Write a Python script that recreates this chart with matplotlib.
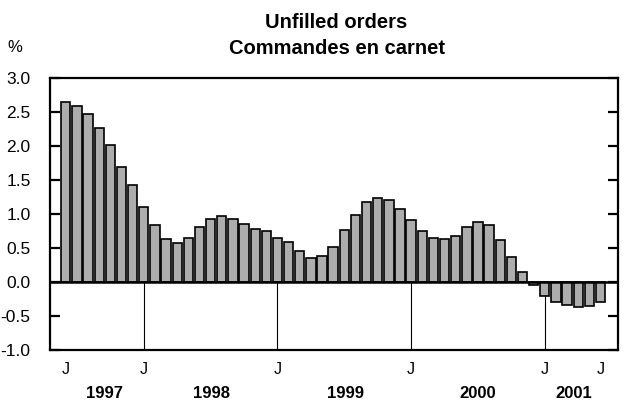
import matplotlib
matplotlib.use("Agg")
import matplotlib.pyplot as plt
import matplotlib.transforms as mtransforms
import numpy as np

plt.rcParams['font.family'] = ['Liberation Sans', 'DejaVu Sans']

# Monthly values, June 1997 .. June 2001
values = [2.64, 2.59, 2.47, 2.26, 2.01, 1.69, 1.43,            # Jun-Dec 1997
          1.11, 0.84, 0.63, 0.58, 0.65, 0.81, 0.93, 0.97, 0.93, 0.85, 0.78, 0.75,  # 1998
          0.64, 0.59, 0.46, 0.36, 0.38, 0.52, 0.76, 0.99, 1.17, 1.24, 1.20, 1.07,  # 1999
          0.91, 0.755, 0.65, 0.63, 0.68, 0.81, 0.88, 0.84, 0.62, 0.37, 0.15, -0.05,  # 2000
          -0.21, -0.29, -0.34, -0.37, -0.35, -0.29]               # Jan-Jun 2001
month_labels = ['J', 'J', 'J', 'J', 'J', 'J']
month_label_idx = [0, 7, 19, 31, 43, 48]
jan_idx = [7, 19, 31, 43]
years = ['1997', '1998', '1999', '2000', '2001']
year_pos = [3.5, 13.1, 25.1, 37.0, 45.6]
yticks = [3.0, 2.5, 2.0, 1.5, 1.0, 0.5, 0.0, -0.5, -1.0]

fig = plt.figure(figsize=(6.26, 4.08), dpi=100)
ax = fig.add_axes([50/626, 1-350/408, (618-50)/626, (350-78)/408])

x = np.arange(len(values))
ax.bar(x, values, width=0.84, color='#adadad', edgecolor='black', linewidth=1.2, zorder=2)
ax.axhline(0, color='black', linewidth=1.8, zorder=3)
for j in jan_idx:
    ax.vlines(j, -1.0, min(0, values[j]), color='black', linewidth=0.8, zorder=1)

ax.set_xlim(-1.42, 49.57)
ax.set_ylim(-1.0, 3.0)
ax.set_yticks(yticks)
ax.set_yticklabels([f'{t:.1f}' for t in yticks], fontsize=12.5)
ax.tick_params(axis='y', direction='in', length=7, width=1.6, left=True, right=True, pad=14)
ax.set_xticks(month_label_idx)
ax.set_xticklabels(month_labels, fontsize=11.5)
ax.tick_params(axis='x', length=0, pad=9)
for s in ax.spines.values():
    s.set_linewidth(1.6)

year_tr = mtransforms.blended_transform_factory(ax.transData, fig.transFigure)
for yr, p in zip(years, year_pos):
    ax.text(p, 1-393/408, yr, transform=year_tr, ha='center', va='center',
            fontsize=12, fontweight='bold')

fig.text(336/626, 1-22/408, 'Unfilled orders', ha='center', va='center', fontsize=14.5, fontweight='bold')
fig.text(337/626, 1-48/408, 'Commandes en carnet', ha='center', va='center', fontsize=14.5, fontweight='bold')
fig.text(15/626, 1-47/408, '%', ha='center', va='center', fontsize=12)

fig.savefig('out.png', dpi=100)
